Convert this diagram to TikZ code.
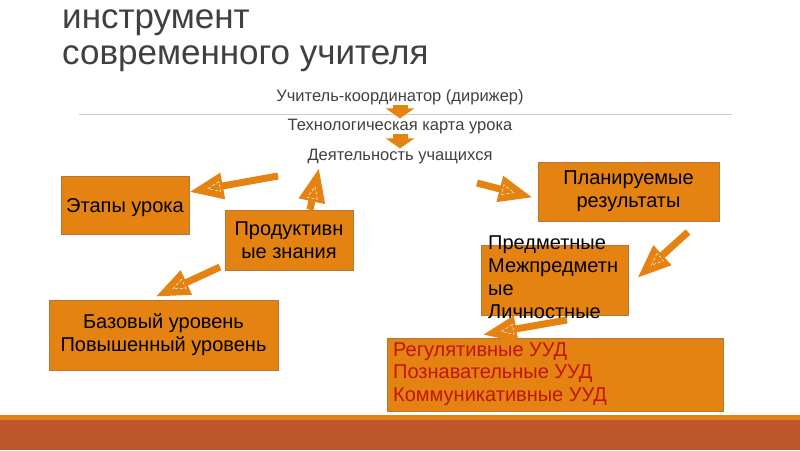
\documentclass[tikz,border=0pt]{standalone}
\usepackage{fontspec}
\setmainfont{Liberation Sans}
\usetikzlibrary{arrows.meta,decorations.markings}
\definecolor{SlideOr}{HTML}{E48312}
\definecolor{BoxLine}{HTML}{B4773A}
\definecolor{BandDark}{HTML}{BE582C}
\definecolor{TextGray}{HTML}{404040}
\definecolor{UudRed}{HTML}{C0150F}
\tikzset{
  card/.style={draw=BoxLine, line width=0.6pt, fill=SlideOr, inner sep=0pt, align=center,
    font=\fontsize{20}{23}\selectfont, execute at begin node={\rule{0pt}{20pt}}},
  plain/.style={font=\fontsize{16.5}{19}\selectfont, text=TextGray, inner sep=0pt},
  flow/.style={draw=SlideOr, line width=7pt, -{Triangle[length=34pt,width=25pt]},
    postaction={decorate}, decoration={markings, mark=at position -25pt with
      {\draw[white, densely dashed, line width=0.5pt] (-6pt,-5pt) -- (6pt,0pt) -- (-6pt,5pt) -- cycle;}}},
  drop/.style={draw=SlideOr, line width=15pt, -{Triangle[length=10pt,width=28pt]}}
}
\begin{document}
\begin{tikzpicture}[x=1pt,y=-1pt]
  \useasboundingbox (0,0) rectangle (800,450);
  % title
  \node[anchor=north west, inner sep=0pt, align=left, text=TextGray,
    font=\fontsize{35}{36}\selectfont] (title) at (62,9) {инструмент\\современного учителя};
  \draw[black!20, line width=1pt] (79,114) -- (732,114);
  % chain in the middle
  \node[plain, anchor=base] (teacher) at (400,101) {Учитель-координатор (дирижер)};
  \node[plain, anchor=base] (techmap) at (400,130) {Технологическая карта урока};
  \node[plain, anchor=base] (act) at (400,160) {Деятельность учащихся};
  \draw[drop] (teacher.south) -- (techmap.north);
  \draw[drop] (techmap.south) -- (act.north);
  % boxes
  \node[card, minimum width=128pt, minimum height=58pt] (stages) at (125,205) {Этапы урока};
  \node[card, minimum width=128pt, minimum height=60pt] (prod) at (289,240) {Продуктивн\\ые знания};
  \node[card, minimum width=229pt, minimum height=70pt] (levels) at (163.5,335)
    {Базовый уровень\\Повышенный уровень};
  \node[card, minimum width=181pt, minimum height=59pt] (plan) at (628.5,191.5) {Планируемые\\результаты};
  \node[card, minimum width=147pt, minimum height=70pt] (subj) at (554.5,280) {};
  \node[anchor=north west, inner sep=0pt, align=left, font=\fontsize{20}{23}\selectfont]
    (subjtext) at (488,235.5) {Предметные\\Межпредметн\\ые\\Личностные};
  \node[card, minimum width=336pt, minimum height=73pt] (reg) at (555,374.5) {};
  \node[anchor=north west, inner sep=0pt, align=left, text=UudRed, font=\fontsize{20}{22.5}\selectfont]
    (regtext) at (393,342.5) {Регулятивные УУД\\Познавательные УУД\\Коммуникативные УУД};
  % arrows
  \coordinate (a1) at (278,176);
  \coordinate (a2) at (319,168);
  \coordinate (a3) at (220,267);
  \coordinate (a4) at (477,183);
  \coordinate (a5) at (688,232);
  \coordinate (a6) at (567,320);
  \draw[flow] (a1) -- ([yshift=13pt]stages.east);
  \draw[flow] ([xshift=21pt]prod.north) -- (a2);
  \draw[flow] (a3) -- ([xshift=-8pt,yshift=3pt]levels.north);
  \draw[flow] (a4) -- ([xshift=-5pt,yshift=-6pt]plan.west);
  \draw[flow] (a5) -- ([xshift=9pt,yshift=2pt]subj.east);
  \draw[flow] (a6) -- ([xshift=96pt,yshift=3pt]reg.north west);
  % band at the bottom
  \fill[SlideOr] (0,415) rectangle (800,420);
  \fill[BandDark] (0,420) rectangle (800,450);
\end{tikzpicture}
\end{document}
